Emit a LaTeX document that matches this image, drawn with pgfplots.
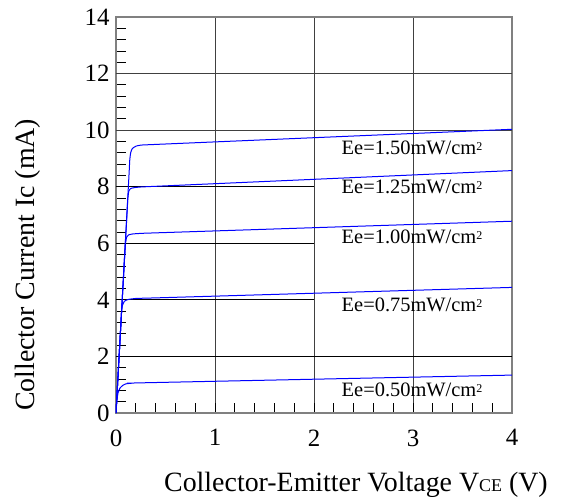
\documentclass[border=0pt]{standalone}
\usepackage{pgfplots}
\pgfplotsset{compat=1.18}
\usepackage{fontspec}
\setmainfont{Liberation Serif}

\newcommand{\lbl}[1]{\fontsize{20.5}{21}\selectfont Ee=#1mW/cm\raisebox{0.45ex}{\fontsize{12}{12}\selectfont 2}}

\begin{document}
\begin{tikzpicture}
  \path[use as bounding box] (-116bp,-90bp) rectangle (448bp,413bp);
  \begin{axis}[
      width=396bp, height=396bp, scale only axis,
      xmin=0, xmax=4, ymin=0, ymax=14,
      xtick={0,1,2,3,4}, ytick={0,2,...,14},
      minor x tick num=4, minor y tick num=4,
      tick pos=left, tick align=inside,
      major tick length=10bp, minor tick length=10bp,
      tick style={black, line width=0.8bp},
      axis line style={gray, line width=1.6bp},
      xmajorgrids,
      major x grid style={black!75, line width=0.9bp},
      /pgf/number format/assume math mode=true,
      ticklabel style={font=\fontsize{25}{25}\selectfont},
      xticklabel style={yshift=-13bp},
      yticklabel style={xshift=-3bp},
      label style={font=\fontsize{28}{28}\selectfont},
      xlabel={Collector-Emitter Voltage V{\fontsize{18}{18}\selectfont CE} (V)},
      xlabel style={at={(rel axis cs:0.606,-0.182)}, anchor=center},
      ylabel={Collector Current Ic (mA)},
      ylabel style={at={(rel axis cs:-0.222,0.374)}, anchor=center},
    ]
    % partial horizontal grid
    \draw[black, line width=0.8bp] (axis cs:0,2) -- (axis cs:4,2);
    \draw[black, line width=0.8bp] (axis cs:0,4) -- (axis cs:2,4);
    \draw[black, line width=0.8bp] (axis cs:0,6) -- (axis cs:2,6);
    \draw[black, line width=0.8bp] (axis cs:0,8) -- (axis cs:2,8);
    \draw[black!75, line width=0.9bp] (axis cs:0,10) -- (axis cs:4,10);
    \draw[black!75, line width=0.9bp] (axis cs:0,12) -- (axis cs:4,12);

    \addplot[blue, line width=1bp, smooth, tension=0.3] coordinates {
      (0,0) (0.128,8.2) (0.138,8.9) (0.148,9.2) (0.165,9.35) (0.2,9.43)
      (0.25,9.47) (0.5,9.51) (4,10.03)};
    \addplot[blue, line width=1bp, smooth, tension=0.3] coordinates {
      (0,0) (0.112,7.1) (0.12,7.6) (0.13,7.85) (0.15,7.94) (0.19,7.97)
      (0.25,7.99) (0.5,8.03) (4,8.57)};
    \addplot[blue, line width=1bp, smooth, tension=0.3] coordinates {
      (0,0) (0.088,5.6) (0.096,6.0) (0.108,6.22) (0.13,6.3) (0.17,6.33)
      (0.25,6.35) (0.5,6.38) (4,6.78)};
    \addplot[blue, line width=1bp, smooth, tension=0.3] coordinates {
      (0,0) (0.055,3.5) (0.065,3.8) (0.085,3.95) (0.12,4.01) (0.2,4.05)
      (0.5,4.08) (4,4.44)};
    \addplot[blue, line width=1bp, smooth, tension=0.3] coordinates {
      (0,0) (0.008,0.4) (0.02,0.7) (0.04,0.88) (0.07,0.98) (0.1,1.03)
      (0.15,1.05) (0.3,1.07) (4,1.34)};

    \node at (axis cs:2.99,9.36) {\lbl{1.50}};
    \node at (axis cs:2.99,7.99) {\lbl{1.25}};
    \node at (axis cs:2.99,6.22) {\lbl{1.00}};
    \node at (axis cs:2.99,3.82) {\lbl{0.75}};
    \node at (axis cs:2.99,0.81) {\lbl{0.50}};
  \end{axis}
\end{tikzpicture}
\end{document}
